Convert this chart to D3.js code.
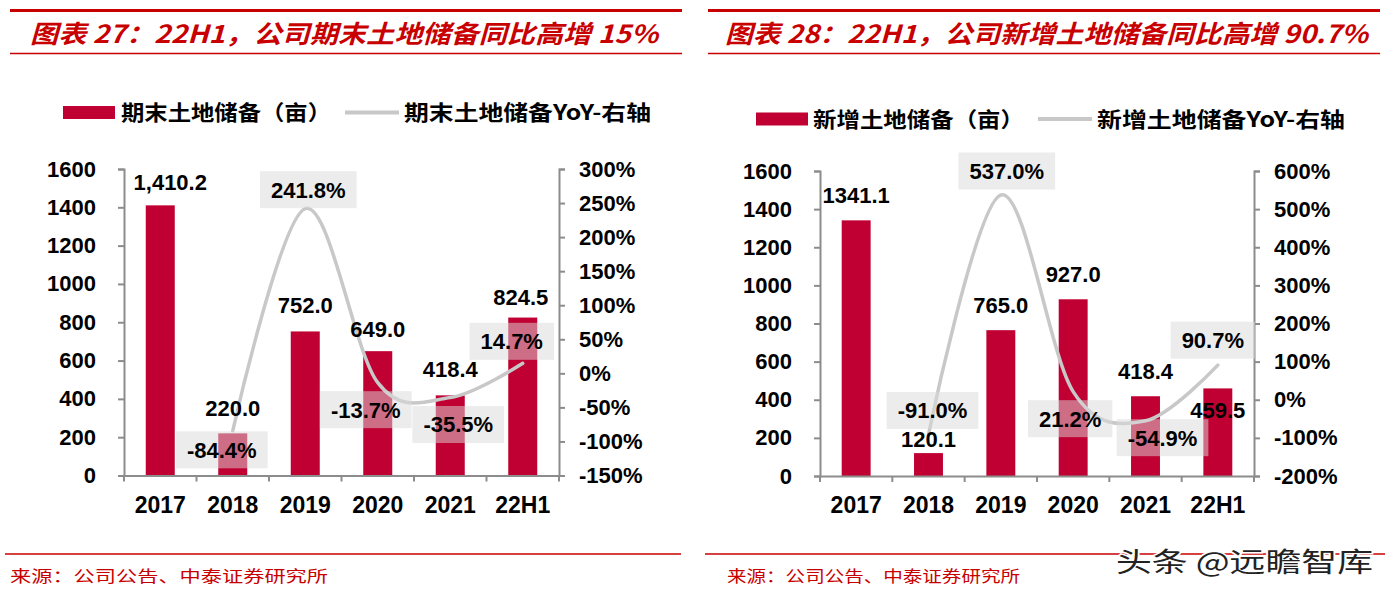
<!DOCTYPE html>
<html>
<head>
<meta charset="utf-8">
<script src="https://cdn.jsdelivr.net/npm/d3@7"></script>
<style>
  html, body { margin: 0; padding: 0; background: #fff; }
  svg { display: block; }
</style>
</head>
<body>
<svg id="chart" width="1385" height="600"></svg>
<script>
// ---------- DATA ----------
const categories = ["2017", "2018", "2019", "2020", "2021", "22H1"];

const stockValues = [1410.2, 220.0, 752.0, 649.0, 418.4, 824.5];
const stockYoY = [null, -84.4, 241.8, -13.7, -35.5, 14.7];

const newValues = [1341.1, 120.1, 765.0, 927.0, 418.4, 459.5];
const newYoY = [null, -91.0, 537.0, 21.2, -54.9, 90.7];

const leftTicks = [0, 200, 400, 600, 800, 1000, 1200, 1400, 1600];
const stockYoYTicks = [-150, -100, -50, 0, 50, 100, 150, 200, 250, 300];
const newYoYTicks = [-200, -100, 0, 100, 200, 300, 400, 500, 600];

const titles = ["图表 27：22H1，公司期末土地储备同比高增 15%", "图表 28：22H1，公司新增土地储备同比高增 90.7%"];
const legendBarNames = ["期末土地储备（亩）", "新增土地储备（亩）"];
const legendLineNames = ["期末土地储备YoY-右轴", "新增土地储备YoY-右轴"];
const sourceText = "来源：公司公告、中泰证券研究所";
const watermark = "头条 @远瞻智库";

// ---------- STYLE / LAYOUT ----------
const RED = "#C80000";
const BAR = "#C00032";
const LINE = "#C8C8C8";
const AXIS = "#8C8C8C";
const NUMFONT = "'Liberation Sans', Arial, sans-serif";
const CJKFONT = "'Noto Sans CJK SC', 'Noto Sans', sans-serif";

const panels = [
  {
    frame: [10, 682], title: [30, 658],
    plot: { x0: 124, x1: 559, yTop: 169, yBot: 475.5 },
    bars: stockValues, yoy: stockYoY, yTicks: leftTicks, rTicks: stockYoYTicks,
    barFmt: d3.format(",.1f"),
    legend: { y: 112.5, rect: [63, 115], t1: [121, 331], line: [345, 399], t2: [404, 651] },
    barLabelShift: [[10, -23], [0, -25], [0, -26], [0, -22], [0, -26], [-2, -20]],
    yoyLabelShift: [null, [-11, 19], [3, -19], [-12, 27], [8, 27], [-11, -22]],
    source: [10, 328], footLine: [5, 681], barName: legendBarNames[0], lineName: legendLineNames[0], titleText: titles[0]
  },
  {
    frame: [708, 1380], title: [725, 1368],
    plot: { x0: 820, x1: 1254, yTop: 171, yBot: 476 },
    bars: newValues, yoy: newYoY, yTicks: leftTicks, rTicks: newYoYTicks,
    barFmt: d3.format(".1f"),
    legend: { y: 119, rect: [756, 808], t1: [813, 1024], line: [1038, 1092], t2: [1097, 1345] },
    barLabelShift: [[0, -25], [0, -14], [0, -25], [0, -25], [0, -25], [0, 22]],
    yoyLabelShift: [null, [4, -24], [6, -24], [-3, 27], [17, 17], [-5, -25]],
    source: [727, 1020], footLine: [705, 1385], barName: legendBarNames[1], lineName: legendLineNames[1], titleText: titles[1]
  }
];

const svg = d3.select("#chart");
svg.append("rect").attr("width", 1385).attr("height", 600).attr("fill", "#fff");

panels.forEach(p => {
  const g = svg.append("g");

  // header lines & title
  g.append("line").attr("x1", p.frame[0]).attr("x2", p.frame[1]).attr("y1", 10.5).attr("y2", 10.5)
    .attr("stroke", RED).attr("stroke-width", 3);
  g.append("line").attr("x1", p.frame[0]).attr("x2", p.frame[1]).attr("y1", 53.5).attr("y2", 53.5)
    .attr("stroke", RED).attr("stroke-width", 1.5);
  g.append("text").attr("x", p.title[0]).attr("y", 43)
    .attr("textLength", p.title[1] - p.title[0]).attr("lengthAdjust", "spacingAndGlyphs")
    .style("font-family", CJKFONT).style("font-size", "25px").style("font-weight", "bold")
    .style("font-style", "italic").attr("fill", RED).text(p.titleText);

  // legend
  const L = p.legend;
  g.append("rect").attr("x", L.rect[0]).attr("y", L.y - 6.5).attr("width", L.rect[1] - L.rect[0]).attr("height", 13)
    .attr("fill", BAR);
  g.append("text").attr("x", L.t1[0]).attr("y", L.y).attr("dy", "0.36em")
    .attr("textLength", L.t1[1] - L.t1[0]).attr("lengthAdjust", "spacingAndGlyphs")
    .style("font-family", CJKFONT).style("font-size", "21px").style("font-weight", "bold")
    .attr("fill", "#000").text(p.barName);
  g.append("line").attr("x1", L.line[0]).attr("x2", L.line[1]).attr("y1", L.y).attr("y2", L.y)
    .attr("stroke", LINE).attr("stroke-width", 4);
  g.append("text").attr("x", L.t2[0]).attr("y", L.y).attr("dy", "0.36em")
    .attr("textLength", L.t2[1] - L.t2[0]).attr("lengthAdjust", "spacingAndGlyphs")
    .style("font-family", CJKFONT).style("font-size", "21px").style("font-weight", "bold")
    .attr("fill", "#000").text(p.lineName);

  // scales
  const P = p.plot;
  const x = d3.scaleBand().domain(categories).range([P.x0, P.x1]).paddingInner(0.6).paddingOuter(0.3);
  const y = d3.scaleLinear().domain([d3.min(p.yTicks), d3.max(p.yTicks)]).range([P.yBot, P.yTop]);
  const yr = d3.scaleLinear().domain([d3.min(p.rTicks), d3.max(p.rTicks)]).range([P.yBot, P.yTop]);
  const cx = c => x(c) + x.bandwidth() / 2;

  // bars
  g.selectAll(".bar").data(categories).join("rect")
    .attr("x", c => x(c)).attr("width", x.bandwidth())
    .attr("y", (c, i) => y(p.bars[i])).attr("height", (c, i) => y(0) - y(p.bars[i]))
    .attr("fill", BAR);

  // axes
  const styleAxis = sel => {
    sel.selectAll("path, line").attr("stroke", AXIS).attr("stroke-width", 2);
    sel.selectAll("text").style("font-family", NUMFONT).style("font-weight", "bold")
      .style("font-size", "22px").attr("fill", "#000");
  };
  g.append("g").attr("transform", `translate(${P.x0},0)`)
    .call(d3.axisLeft(y).tickValues(p.yTicks).tickSize(6).tickSizeOuter(6).tickPadding(22).tickFormat(d3.format("d")))
    .call(styleAxis);
  g.append("g").attr("transform", `translate(${P.x1},0)`)
    .call(d3.axisRight(yr).tickValues(p.rTicks).tickSize(6).tickSizeOuter(6).tickPadding(14).tickFormat(d => d + "%"))
    .call(styleAxis);
  const xAxisG = g.append("g").attr("transform", `translate(0,${P.yBot})`)
    .call(d3.axisBottom(x).tickSize(0).tickSizeOuter(0).tickPadding(21))
    .call(styleAxis);
  xAxisG.selectAll("text").style("font-size", "23px");
  // category boundary ticks
  const bounds = d3.range(categories.length + 1).map(i => P.x0 + i * x.step());
  g.selectAll(".xt").data(bounds).join("line")
    .attr("x1", d => d).attr("x2", d => d).attr("y1", P.yBot).attr("y2", P.yBot + 6)
    .attr("stroke", AXIS).attr("stroke-width", 2);

  // YoY line (smoothed)
  const pts = categories.map((c, i) => [cx(c), p.yoy[i]]).filter(d => d[1] !== null);
  const line = d3.line().x(d => d[0]).y(d => yr(d[1])).curve(d3.curveCardinal.tension(0));
  g.append("path").attr("d", line(pts)).attr("fill", "none").attr("stroke", LINE)
    .attr("stroke-width", 3.5).attr("stroke-linecap", "round");

  // YoY labels with boxes
  categories.forEach((c, i) => {
    if (p.yoy[i] === null) return;
    const [dx, dy] = p.yoyLabelShift[i];
    const lx = cx(c) + dx, ly = yr(p.yoy[i]) + dy;
    const t = g.append("text").attr("x", lx).attr("y", ly).attr("dy", "0.36em")
      .attr("text-anchor", "middle")
      .style("font-family", NUMFONT).style("font-weight", "bold").style("font-size", "22px")
      .attr("fill", "#000").text(p.yoy[i].toFixed(1) + "%");
    const w = t.node().getComputedTextLength() + 22;
    g.insert("rect", () => t.node()).attr("x", lx - w / 2).attr("y", ly - 18.5).attr("width", w).attr("height", 37)
      .attr("fill", "#D9D9D9").attr("fill-opacity", 0.5);
  });

  // bar value labels
  categories.forEach((c, i) => {
    const [dx, dy] = p.barLabelShift[i];
    g.append("text").attr("x", cx(c) + dx).attr("y", y(p.bars[i]) + dy).attr("dy", "0.36em")
      .attr("text-anchor", "middle")
      .style("font-family", NUMFONT).style("font-weight", "bold").style("font-size", "22px")
      .attr("fill", "#000").text(p.barFmt(p.bars[i]));
  });

  // footer
  g.append("line").attr("x1", p.footLine[0]).attr("x2", p.footLine[1]).attr("y1", 554).attr("y2", 554)
    .attr("stroke", RED).attr("stroke-width", 1.5);
  g.append("text").attr("x", p.source[0]).attr("y", 582)
    .attr("textLength", p.source[1] - p.source[0]).attr("lengthAdjust", "spacingAndGlyphs")
    .style("font-family", CJKFONT).style("font-size", "16px").attr("fill", RED).text(sourceText);
});

// watermark
svg.append("text").attr("x", 1116).attr("y", 572)
  .attr("textLength", 257).attr("lengthAdjust", "spacingAndGlyphs")
  .style("font-family", CJKFONT).style("font-size", "27px")
  .attr("fill", "#222").attr("stroke", "#fff").attr("stroke-width", 3).attr("paint-order", "stroke")
  .text(watermark);
</script>
</body>
</html>
